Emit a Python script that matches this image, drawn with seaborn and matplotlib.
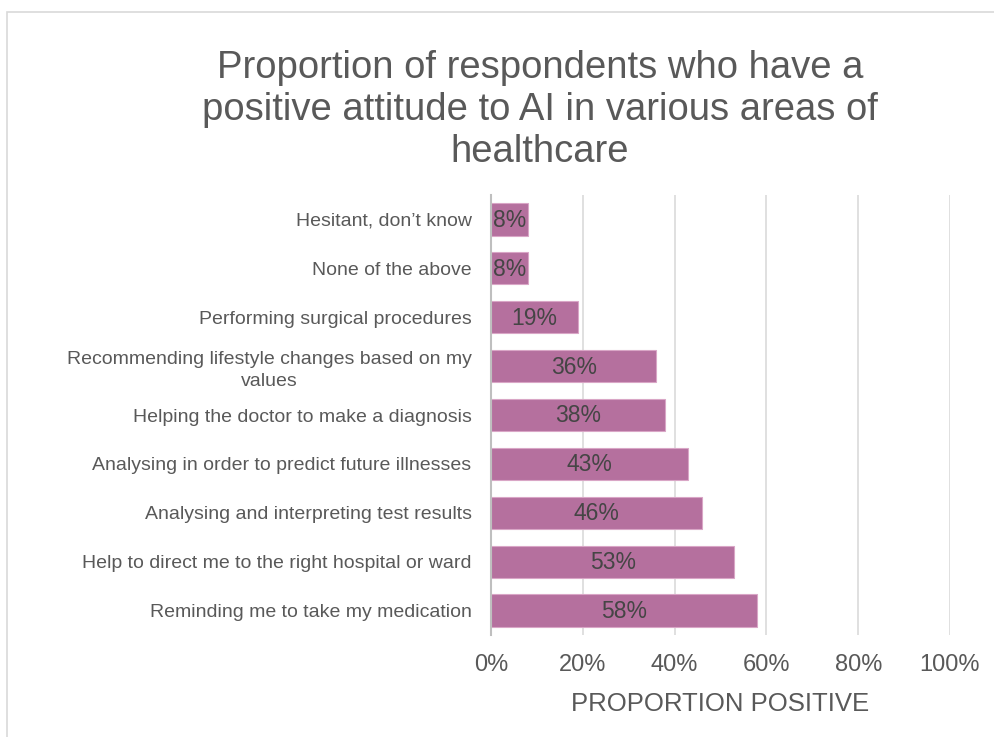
import matplotlib
matplotlib.use("Agg")
import matplotlib.pyplot as plt
import seaborn as sns
import pandas as pd
from matplotlib.patches import Rectangle

categories = [
    "Hesitant, don\u2019t know",
    "None of the above",
    "Performing surgical procedures",
    "Recommending lifestyle changes based on my\nvalues",
    "Helping the doctor to make a diagnosis",
    "Analysing in order to predict future illnesses",
    "Analysing and interpreting test results",
    "Help to direct me to the right hospital or ward",
    "Reminding me to take my medication",
]
values = [8, 8, 19, 36, 38, 43, 46, 53, 58]
xticks = [0, 20, 40, 60, 80, 100]
xtick_labels = ["0%", "20%", "40%", "60%", "80%", "100%"]

sns.set_theme(style="white")
plt.rcParams["font.family"] = ["Liberation Sans", "DejaVu Sans"]

df = pd.DataFrame({"cat": categories, "val": values})

fig = plt.figure(figsize=(9.95, 7.37), dpi=100)
ax = fig.add_axes([491/995, 1-635/737, (950-491)/995, (635-195)/737])

bar_color = "#B5709E"
sns.barplot(data=df, x="val", y="cat", orient="h", color=bar_color,
            width=0.66, edgecolor="#D9A6C6", linewidth=0.8, saturation=1, ax=ax)

for i, v in enumerate(values):
    ax.text(v / 2, i + 0.02, f"{v}%", ha="center", va="center", fontsize=16.5,
            color="#454545")

ax.set_xlim(0, 100)
ax.set_xticks(xticks)
ax.set_xticklabels(xtick_labels, fontsize=17, color="#595959")
ax.tick_params(axis="x", length=0, pad=14)
ax.tick_params(axis="y", length=0, pad=14)
for lbl in ax.get_yticklabels():
    lbl.set_fontsize(14)
    lbl.set_color("#595959")
    lbl.set_multialignment("center")
    lbl.set_linespacing(1.4)
ax.grid(axis="x", color="#DDDDDD", linewidth=1.3)
ax.set_axisbelow(True)
for s in ["top", "right", "bottom"]:
    ax.spines[s].set_visible(False)
ax.spines["left"].set_color("#BFBFBF")
ax.spines["left"].set_linewidth(1.5)
ax.set_ylabel("")
ax.set_xlabel("PROPORTION POSITIVE", fontsize=18.5, color="#595959", labelpad=11)

fig.text(540/995, 1-110/737,
         "Proportion of respondents who have a\npositive attitude to AI in various areas of\nhealthcare",
         ha="center", va="center", fontsize=27.5, color="#595959", linespacing=1.2)

fig.patches.append(Rectangle((7/995, -0.1), 1.2, (737-12)/737 + 0.1,
                             transform=fig.transFigure, fill=False,
                             edgecolor="#D9D9D9", linewidth=1.2))

fig.savefig("out.png", dpi=100)
